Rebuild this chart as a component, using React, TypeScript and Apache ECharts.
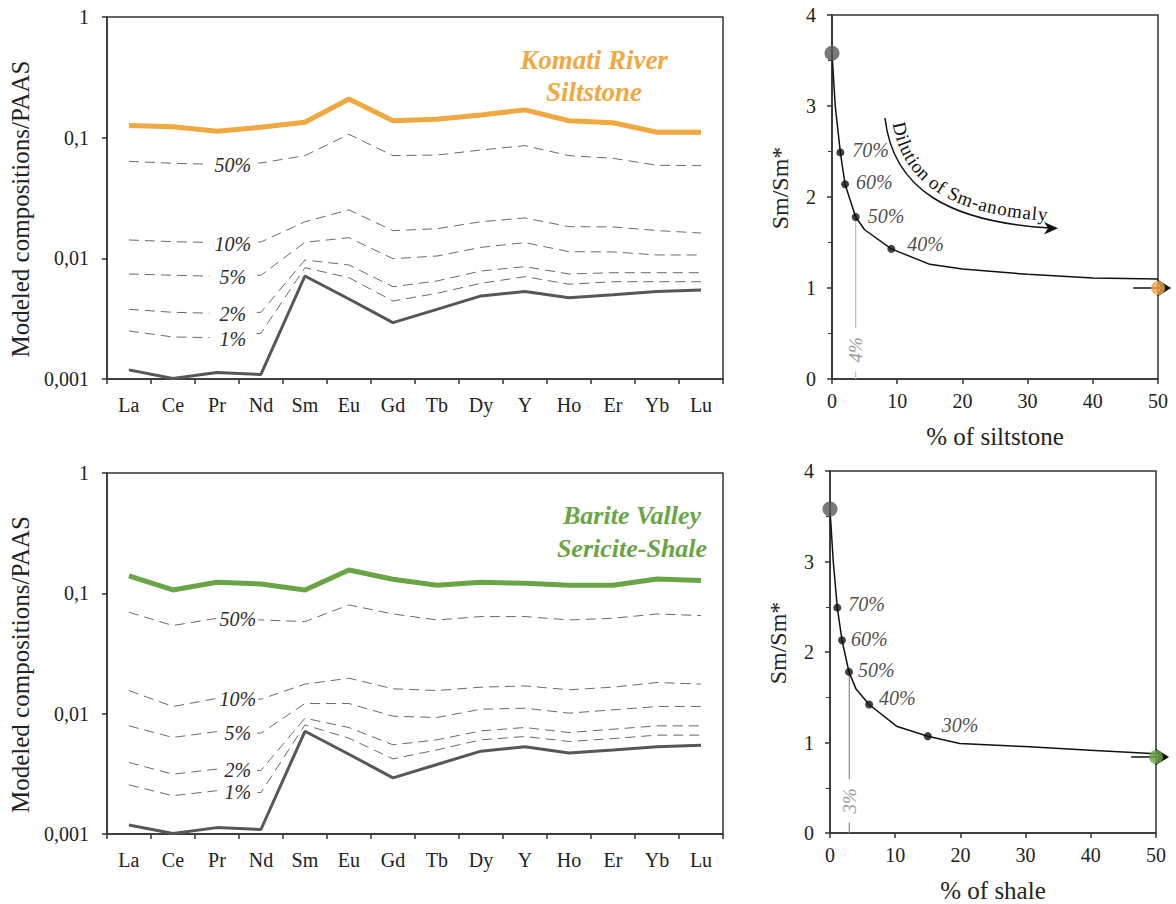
import React, { useEffect, useRef } from 'react';
import * as echarts from 'echarts';

// ---------- DATA ----------
const ree = ['La', 'Ce', 'Pr', 'Nd', 'Sm', 'Eu', 'Gd', 'Tb', 'Dy', 'Y', 'Ho', 'Er', 'Yb', 'Lu'];

// Sm-rich end member (same in both panels)
const endMember = [0.00119, 0.00101, 0.00113, 0.00109, 0.00714, 0.0046, 0.00293, 0.00378, 0.00488, 0.0053, 0.00472, 0.0050, 0.0053, 0.00547];

// Komati River Siltstone and modeled mixtures
const komati = [0.126, 0.123, 0.113, 0.122, 0.134, 0.209, 0.138, 0.142, 0.154, 0.170, 0.138, 0.133, 0.111, 0.111];
const komatiMix50 = [0.0637, 0.0613, 0.0600, 0.0617, 0.0710, 0.1066, 0.0710, 0.0718, 0.0790, 0.0859, 0.0710, 0.0675, 0.0590, 0.0587];
const komatiMix10 = [0.0142, 0.01374, 0.0135, 0.01366, 0.0201, 0.0252, 0.01695, 0.0176, 0.0201, 0.0216, 0.0183, 0.0182, 0.0170, 0.0162];
const komatiMix5 = [0.00742, 0.00724, 0.0071, 0.00724, 0.01358, 0.01483, 0.00993, 0.01045, 0.01233, 0.01349, 0.01135, 0.0113, 0.01066, 0.01066];
const komatiMix2 = [0.00378, 0.00357, 0.0035, 0.00357, 0.00969, 0.00881, 0.00582, 0.00649, 0.00785, 0.00853, 0.00742, 0.0076, 0.0076, 0.0076];
const komatiMix1 = [0.0025, 0.00223, 0.0022, 0.00239, 0.00837, 0.00691, 0.00443, 0.00513, 0.00621, 0.00705, 0.0061, 0.0064, 0.0064, 0.0064];

// Barite Valley Sericite-Shale and modeled mixtures
const barite = [0.1395, 0.1067, 0.1236, 0.1197, 0.1067, 0.1564, 0.131, 0.1167, 0.1236, 0.121, 0.1167, 0.1167, 0.1318, 0.1276];
const bariteMix50 = [0.0696, 0.054, 0.062, 0.0601, 0.0582, 0.0801, 0.0674, 0.0601, 0.0641, 0.0641, 0.0601, 0.062, 0.0674, 0.0653];
const bariteMix10 = [0.01556, 0.01146, 0.0134, 0.0132, 0.0176, 0.0197, 0.0161, 0.01556, 0.0166, 0.0170, 0.0158, 0.0166, 0.01815, 0.0176];
const bariteMix5 = [0.00792, 0.00634, 0.0071, 0.00689, 0.01214, 0.01214, 0.00953, 0.00929, 0.01089, 0.0111, 0.0101, 0.01076, 0.01146, 0.01146];
const bariteMix2 = [0.00393, 0.00314, 0.00346, 0.00337, 0.00917, 0.00767, 0.00551, 0.00606, 0.0072, 0.00767, 0.00697, 0.00743, 0.00792, 0.00792];
const bariteMix1 = [0.00256, 0.00208, 0.00229, 0.00221, 0.00807, 0.00625, 0.00421, 0.005, 0.00606, 0.00646, 0.00587, 0.00621, 0.00663, 0.00663];

const mixLabels = ['50%', '10%', '5%', '2%', '1%'];

// Sm/Sm* vs % of siltstone
const siltCurveX = [0, 0.5, 1.28, 2.0, 3.63, 5.0, 9.1, 15, 20, 30, 40, 50];
const siltCurveY = [3.58, 3.0, 2.49, 2.14, 1.78, 1.64, 1.43, 1.26, 1.21, 1.15, 1.11, 1.10];
const siltMixX = [1.28, 2.0, 3.63, 9.1];
const siltMixY = [2.49, 2.14, 1.78, 1.43];
const siltMixLabels = ['70%', '60%', '50%', '40%'];
const siltThreshold = 3.63;
const siltThresholdLabel = '4%';
const siltEnd = [50, 1.0];

// Sm/Sm* vs % of shale
const shaleCurveX = [0, 0.5, 1.12, 1.84, 2.91, 4.0, 6.0, 10.2, 15.0, 19.9, 29.9, 39.9, 50];
const shaleCurveY = [3.57, 3.0, 2.49, 2.13, 1.78, 1.59, 1.42, 1.18, 1.07, 0.99, 0.955, 0.915, 0.875];
const shaleMixX = [1.12, 1.84, 2.91, 6.0, 15.0];
const shaleMixY = [2.49, 2.13, 1.78, 1.42, 1.07];
const shaleMixLabels = ['70%', '60%', '50%', '40%', '30%'];
const shaleThreshold = 2.96;
const shaleThresholdLabel = '3%';
const shaleEnd = [50, 0.84];

const smRichEnd = [0, 3.58];

// ---------- STYLE ----------
const FONT = 'Liberation Serif, Times New Roman, serif';
const INK = '#222';
const ORANGE = '#F2A840';
const GREEN = '#6AA545';
const DARK = '#575757';

const siltLabelOffsets = [[2, -2], [1, -2], [2, -1], [6, -5]];
const shaleLabelOffsets = [[1, -4], [-1, -1], [-1, -2], [0, -6], [4, -11]];

function logFmt(v: number) {
  const e = Math.round(Math.log10(v));
  if (e >= 0) return '1';
  return '0,' + '0'.repeat(-e - 1) + '1';
}

const axisLineStyle = { color: '#333', width: 1.5 };

function catAxis(g: number) {
  return {
    type: 'category', gridIndex: g, data: ree, boundaryGap: true,
    axisLine: { show: true, lineStyle: axisLineStyle },
    axisTick: { show: true, alignWithLabel: false, length: 5, lineStyle: axisLineStyle },
    axisLabel: { fontFamily: FONT, fontSize: 20, color: INK, margin: 16, interval: 0 },
    splitLine: { show: false },
  };
}
function logAxis(g: number) {
  return {
    type: 'log', gridIndex: g, min: 0.001, max: 1, logBase: 10,
    name: 'Modeled compositions/PAAS', nameLocation: 'middle', nameGap: 61,
    nameTextStyle: { fontFamily: FONT, fontSize: 25, color: INK, padding: [0, 22, 0, 0] },
    axisLine: { show: true, lineStyle: axisLineStyle },
    axisTick: { show: true, length: 5, lineStyle: axisLineStyle },
    axisLabel: { formatter: logFmt, fontFamily: FONT, fontSize: 20, color: INK, margin: 18 },
    splitLine: { show: false }, minorTick: { show: false }, minorSplitLine: { show: false },
  };
}
function pctAxis(g: number, name: string) {
  return {
    type: 'value', gridIndex: g, min: 0, max: 50, interval: 10,
    name, nameLocation: 'middle', nameGap: 45,
    nameTextStyle: { fontFamily: FONT, fontSize: 25, color: INK },
    axisLine: { show: true, lineStyle: axisLineStyle },
    axisTick: { show: true, length: 5, lineStyle: axisLineStyle },
    axisLabel: { fontFamily: FONT, fontSize: 20, color: INK, margin: 12 },
    splitLine: { show: false },
  };
}
function smAxis(g: number) {
  return {
    type: 'value', gridIndex: g, min: 0, max: 4, interval: 1,
    name: 'Sm/Sm*', nameLocation: 'middle', nameGap: 40,
    nameTextStyle: { fontFamily: FONT, fontSize: 24, color: INK, padding: [0, 0, 0, 18] },
    axisLine: { show: true, lineStyle: axisLineStyle },
    axisTick: { show: true, length: 5, lineStyle: axisLineStyle },
    minorTick: { show: true, splitNumber: 2, length: 4, lineStyle: { color: '#333', width: 1 } },
    axisLabel: { fontFamily: FONT, fontSize: 20, color: INK, margin: 16 },
    splitLine: { show: false },
  };
}

function mixSeries(values: number[], label: string, ai: number, dx: number, pad: number) {
  return {
    type: 'line', xAxisIndex: ai, yAxisIndex: ai, data: values, symbol: 'none', silent: true,
    lineStyle: { color: '#6a6a6a', width: 1, type: [10, 6] }, z: 2,
    markPoint: {
      symbol: 'rect', symbolSize: 1, silent: true, itemStyle: { color: 'rgba(0,0,0,0)' },
      label: {
        show: true, position: 'inside', formatter: label, offset: [dx, 1], color: '#2a2a2a',
        fontFamily: FONT, fontStyle: 'italic', fontSize: 20, backgroundColor: '#fff', padding: [0, pad],
      },
      data: [{ coord: [ree[2], values[2]] }],
    },
  };
}

function zip(xs: number[], ys: number[]) {
  return xs.map((x, i) => [x, ys[i]]);
}

function rightSeries(ai: number, cx: number[], cy: number[], mx: number[], my: number[], ml: string[],
  offs: number[][], thr: number, thrLabel: string, thrLabelY: number, thrColor: string, end: number[], endColor: string) {
  return [
    {
      type: 'line', xAxisIndex: ai, yAxisIndex: ai, data: [[thr, my[2]], [thr, 0]], symbol: 'none', silent: true,
      lineStyle: { color: thrColor, width: 1.2 }, z: 1,
      markPoint: {
        symbol: 'rect', symbolSize: 1, silent: true, itemStyle: { color: 'rgba(0,0,0,0)' },
        label: {
          show: true, position: 'inside', formatter: thrLabel, rotate: 90, color: '#999',
          fontFamily: FONT, fontStyle: 'italic', fontSize: 19, backgroundColor: '#fff', padding: [0, 9],
        },
        data: [{ coord: [thr, thrLabelY] }],
      },
    },
    {
      type: 'line', xAxisIndex: ai, yAxisIndex: ai, data: zip(cx, cy), symbol: 'none', silent: true,
      lineStyle: { color: '#111', width: 1.5 }, z: 2,
    },
    {
      type: 'scatter', xAxisIndex: ai, yAxisIndex: ai, symbolSize: 8, itemStyle: { color: '#111' }, z: 4, silent: true,
      data: mx.map((x, i) => ({
        value: [x, my[i]],
        label: {
          show: true, formatter: ml[i], position: 'right', distance: 6, offset: offs[i],
          color: '#1a1a1a', fontFamily: FONT, fontStyle: 'italic', fontSize: 20,
        },
      })),
    },
    {
      type: 'line', xAxisIndex: ai, yAxisIndex: ai, clip: false, silent: true, z: 3,
      showSymbol: true,
      data: [
        { value: [46.2, end[1]], symbol: 'none' },
        { value: [52.0, end[1]], symbol: 'arrow', symbolSize: [13, 14], symbolRotate: -90 },
      ],
      lineStyle: { color: '#111', width: 1.5 }, itemStyle: { color: '#111' },
    },
    {
      type: 'scatter', xAxisIndex: ai, yAxisIndex: ai, symbolSize: 15, itemStyle: { color: DARK }, z: 5, silent: true,
      data: [smRichEnd],
    },
    {
      type: 'scatter', xAxisIndex: ai, yAxisIndex: ai, symbolSize: 14, itemStyle: { color: endColor }, z: 5, silent: true,
      data: [end], clip: false,
    },
  ];
}

function dilutionGraphics() {
  const P0 = [885, 118], P1 = [893, 190], P2 = [950, 222], P3 = [1050, 228];
  const bez = (t: number) => {
    const u = 1 - t;
    return [
      u * u * u * P0[0] + 3 * u * u * t * P1[0] + 3 * u * t * t * P2[0] + t * t * t * P3[0],
      u * u * u * P0[1] + 3 * u * u * t * P1[1] + 3 * u * t * t * P2[1] + t * t * t * P3[1],
    ];
  };
  const N = 600;
  const pts: number[][] = [];
  const cum: number[] = [0];
  for (let i = 0; i <= N; i++) {
    pts.push(bez(i / N));
    if (i > 0) {
      const a = pts[i - 1], b = pts[i];
      cum.push(cum[i - 1] + Math.hypot(b[0] - a[0], b[1] - a[1]));
    }
  }
  const at = (s: number) => {
    let i = 1;
    while (i < N && cum[i] < s) i++;
    const a = pts[i - 1], b = pts[i];
    const seg = cum[i] - cum[i - 1] || 1;
    const f = Math.min(1, Math.max(0, (s - cum[i - 1]) / seg));
    const tx = (b[0] - a[0]) / seg, ty = (b[1] - a[1]) / seg;
    return { x: a[0] + (b[0] - a[0]) * f, y: a[1] + (b[1] - a[1]) * f, tx, ty };
  };
  const text = 'Dilution of Sm-anomaly';
  const fontSize = 19;
  const canvas = document.createElement('canvas');
  const ctx = canvas.getContext('2d') as CanvasRenderingContext2D;
  ctx.font = `${fontSize}px "Liberation Serif"`;
  const widths = text.split('').map((c) => ctx.measureText(c).width);
  const total = widths.reduce((a, b) => a + b, 0);
  const target = 208;
  const gap = Math.max(0, (target - total) / (text.length - 1));
  const els: any[] = [];
  let s = 7;
  text.split('').forEach((c, i) => {
    const mid = s + widths[i] / 2;
    const p = at(mid);
    const nx = p.ty, ny = -p.tx;
    const off = 4;
    els.push({
      type: 'text', x: p.x + nx * off, y: p.y + ny * off, rotation: -Math.atan2(p.ty, p.tx), silent: true,
      style: { text: c, fontFamily: FONT, fontSize, fill: '#111', align: 'center', verticalAlign: 'bottom' },
    });
    s += widths[i] + gap;
  });
  els.push({
    type: 'bezierCurve', silent: true,
    shape: { x1: P0[0], y1: P0[1], cpx1: P1[0], cpy1: P1[1], cpx2: P2[0], cpy2: P2[1], x2: P3[0], y2: P3[1] },
    style: { stroke: '#111', lineWidth: 1.5, fill: null },
  });
  els.push({
    type: 'polygon', silent: true,
    shape: { points: [[1058, 228.3], [1044, 222], [1048, 228.3], [1044, 234.6]] },
    style: { fill: '#111' },
  });
  return els;
}

export default function App() {
  const ref = useRef<HTMLDivElement>(null);
  useEffect(() => {
    if (!ref.current) return;
    const chart = echarts.init(ref.current, null, { renderer: 'svg' });
    const gridStyle = { show: true, borderColor: '#333', borderWidth: 1.5, backgroundColor: 'transparent' };
    const option: any = {
      animation: false,
      backgroundColor: '#fff',
      textStyle: { fontFamily: FONT },
      grid: [
        { left: 96, top: 17, width: 627, height: 362, ...gridStyle },
        { left: 832, top: 15, width: 326, height: 364, ...gridStyle },
        { left: 96, top: 473, width: 627, height: 361, ...gridStyle },
        { left: 830, top: 471, width: 326, height: 363, ...gridStyle },
      ],
      xAxis: [catAxis(0), pctAxis(1, '% of siltstone'), catAxis(2), pctAxis(3, '% of shale')],
      yAxis: [logAxis(0), smAxis(1), logAxis(2), smAxis(3)],
      series: [
        { type: 'line', xAxisIndex: 0, yAxisIndex: 0, data: komati, symbol: 'none', lineStyle: { color: ORANGE, width: 5 }, z: 3, silent: true },
        { type: 'line', xAxisIndex: 0, yAxisIndex: 0, data: endMember, symbol: 'none', lineStyle: { color: DARK, width: 3 }, z: 3, silent: true },
        mixSeries(komatiMix50, mixLabels[0], 0, 16, 7),
        mixSeries(komatiMix10, mixLabels[1], 0, 16, 7),
        mixSeries(komatiMix5, mixLabels[2], 0, 16, 10),
        mixSeries(komatiMix2, mixLabels[3], 0, 16, 10),
        mixSeries(komatiMix1, mixLabels[4], 0, 16, 10),
        { type: 'line', xAxisIndex: 2, yAxisIndex: 2, data: barite, symbol: 'none', lineStyle: { color: GREEN, width: 5 }, z: 3, silent: true },
        { type: 'line', xAxisIndex: 2, yAxisIndex: 2, data: endMember, symbol: 'none', lineStyle: { color: DARK, width: 3 }, z: 3, silent: true },
        mixSeries(bariteMix50, mixLabels[0], 2, 21, 2),
        mixSeries(bariteMix10, mixLabels[1], 2, 21, 2),
        mixSeries(bariteMix5, mixLabels[2], 2, 21, 6),
        mixSeries(bariteMix2, mixLabels[3], 2, 21, 6),
        mixSeries(bariteMix1, mixLabels[4], 2, 21, 6),
        ...rightSeries(1, siltCurveX, siltCurveY, siltMixX, siltMixY, siltMixLabels, siltLabelOffsets,
          siltThreshold, siltThresholdLabel, 0.32, '#bdbdbd', siltEnd, ORANGE),
        ...rightSeries(3, shaleCurveX, shaleCurveY, shaleMixX, shaleMixY, shaleMixLabels, shaleLabelOffsets,
          shaleThreshold, shaleThresholdLabel, 0.355, '#8a8a8a', shaleEnd, GREEN),
      ],
      graphic: [
        {
          type: 'text', x: 594, y: 76, silent: true,
          style: {
            text: 'Komati River\nSiltstone', fontFamily: FONT, fontSize: 27, fontStyle: 'italic', fontWeight: 'bold',
            fill: ORANGE, align: 'center', verticalAlign: 'middle', lineHeight: 32,
          },
        },
        {
          type: 'text', x: 632, y: 532, silent: true,
          style: {
            text: 'Barite Valley\nSericite-Shale', fontFamily: FONT, fontSize: 26, fontStyle: 'italic', fontWeight: 'bold',
            fill: GREEN, align: 'center', verticalAlign: 'middle', lineHeight: 33,
          },
        },
        ...dilutionGraphics(),
      ],
    };
    chart.setOption(option);
    return () => chart.dispose();
  }, []);
  return <div ref={ref} style={{ position: 'absolute', left: 0, top: 0, width: 1176, height: 904 }} />;
}
